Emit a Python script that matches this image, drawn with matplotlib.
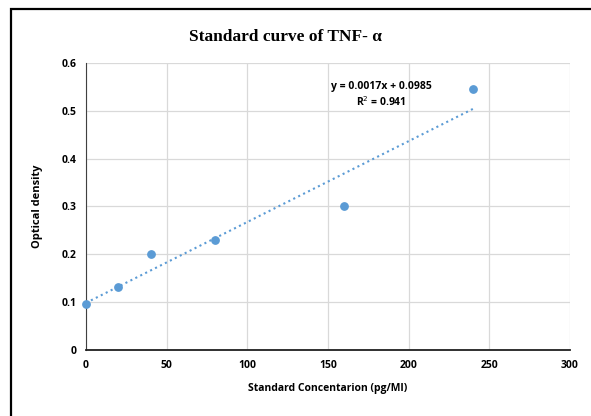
import numpy as np
import matplotlib.pyplot as plt
from matplotlib.patches import Rectangle

# Standard curve readings
concentration = [0, 20, 40, 80, 160, 240]
optical_density = [0.097, 0.131, 0.200, 0.230, 0.300, 0.546]
x_ticks = [0, 50, 100, 150, 200, 250, 300]
y_ticks = [0, 0.1, 0.2, 0.3, 0.4, 0.5, 0.6]
y_tick_labels = ["0", "0.1", "0.2", "0.3", "0.4", "0.5", "0.6"]

blue = "#5b9bd5"

fig = plt.figure(figsize=(5.91, 4.16), dpi=100)
ax = fig.add_axes([0.1455, 0.1587, 0.819, 0.6899])

# Outer frame (only the left and top sides show in the picture)
fig.patches.append(Rectangle((11 / 591, -0.5), 2.0, 0.5 + (416 - 8.5) / 416,
                             transform=fig.transFigure, fill=False,
                             edgecolor="black", linewidth=1.6))

# Linear trendline
slope, intercept = np.polyfit(concentration, optical_density, 1)
fit_x = np.array([concentration[0], concentration[-1]])
ax.plot(fit_x, slope * fit_x + intercept, linestyle=":", color=blue, linewidth=1.5, zorder=2)

ax.scatter(concentration, optical_density, s=28, color=blue, zorder=3, clip_on=False)

ax.set_xlim(0, 300)
ax.set_ylim(0, 0.6)
ax.set_xticks(x_ticks)
ax.set_yticks(y_ticks)
ax.set_yticklabels(y_tick_labels)
ax.grid(True, color="#d9d9d9", linewidth=0.9)
ax.set_axisbelow(True)
ax.tick_params(length=0, pad=7, labelsize=7.5)
for lab in ax.get_xticklabels() + ax.get_yticklabels():
    lab.set_fontweight("bold")
    lab.set_family("Open Sans")

for side in ["top", "right"]:
    ax.spines[side].set_visible(False)
ax.spines["left"].set_color("#404040")
ax.spines["bottom"].set_color("#202020")
ax.spines["bottom"].set_linewidth(1.3)

ax.set_xlabel("Standard Concentarion (pg/MI)", fontsize=7.5, fontweight="bold",
              family="Open Sans", labelpad=9)
ax.set_ylabel("Optical density", fontsize=8, fontweight="bold",
              family="Open Sans", labelpad=13)

ax.text(183, 0.55, "y = 0.0017x + 0.0985", ha="center", va="center",
        fontsize=7.5, fontweight="bold", family="Open Sans")
ax.text(183, 0.519, "R$^2$ = 0.941", ha="center", va="center",
        fontsize=7.5, fontweight="bold", family="Open Sans")

fig.text(285 / 591, 1 - 37 / 416, "Standard curve of TNF- α", ha="center", va="center",
         fontsize=12.5, fontweight="bold", family="Liberation Serif")

fig.savefig("out.png", dpi=100)
